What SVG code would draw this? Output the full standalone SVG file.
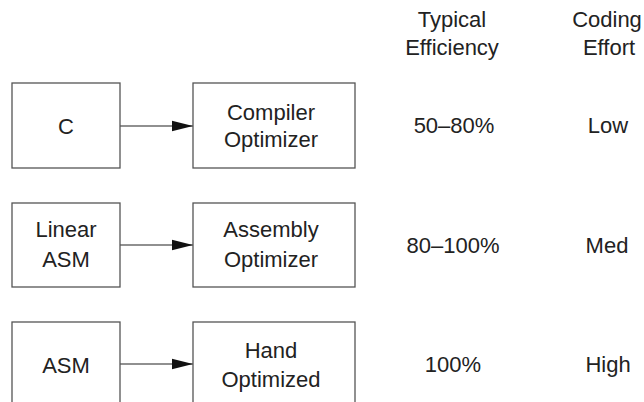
<svg xmlns="http://www.w3.org/2000/svg" width="644" height="402" viewBox="0 0 644 402">
<defs>
<style>
.box{fill:#fff;stroke:#555;stroke-width:1.3}
.t{font-family:"Liberation Sans",Arial,sans-serif;font-size:22px;fill:#222;text-anchor:middle}
.c{stroke:#222;stroke-width:1.2;fill:none}
</style>
<marker id="ah" markerWidth="21" markerHeight="12" refX="21" refY="6" orient="auto" markerUnits="userSpaceOnUse">
<path d="M0,0.8 L21,6 L0,11.2 Z" fill="#111"/>
</marker>
</defs>
<rect width="644" height="402" fill="#fff"/>
<g id="headers">
<text class="t" x="452" y="27">Typical</text>
<text class="t" x="452" y="55">Efficiency</text>
<text class="t" x="607" y="27">Coding</text>
<text class="t" x="609" y="55">Effort</text>
</g>
<g id="connectors">
<line class="c" x1="120" y1="126" x2="193" y2="126" marker-end="url(#ah)"/>
<line class="c" x1="120" y1="245" x2="193" y2="245" marker-end="url(#ah)"/>
<line class="c" x1="120" y1="364" x2="193" y2="364" marker-end="url(#ah)"/>
</g>
<g id="node-c">
<rect class="box" x="12" y="83" width="108" height="85"/>
<text class="t" x="66" y="134">C</text>
</g>
<g id="node-compiler">
<rect class="box" x="193" y="83" width="162" height="85"/>
<text class="t" x="271" y="120">Compiler</text>
<text class="t" x="271" y="147">Optimizer</text>
</g>
<g id="node-linear">
<rect class="box" x="12" y="203" width="108" height="84"/>
<text class="t" x="66" y="237">Linear</text>
<text class="t" x="66" y="267">ASM</text>
</g>
<g id="node-assembly">
<rect class="box" x="193" y="203" width="162" height="84"/>
<text class="t" x="271" y="237">Assembly</text>
<text class="t" x="271" y="267">Optimizer</text>
</g>
<g id="node-asm">
<rect class="box" x="12" y="322" width="108" height="90"/>
<text class="t" x="66" y="373">ASM</text>
</g>
<g id="node-hand">
<rect class="box" x="193" y="322" width="162" height="90"/>
<text class="t" x="271" y="358">Hand</text>
<text class="t" x="271" y="387">Optimized</text>
</g>
<g id="values">
<text class="t" x="454" y="133">50–80%</text>
<text class="t" x="608" y="133">Low</text>
<text class="t" x="453" y="253">80–100%</text>
<text class="t" x="607" y="253">Med</text>
<text class="t" x="453" y="372">100%</text>
<text class="t" x="608" y="372">High</text>
</g>
</svg>
